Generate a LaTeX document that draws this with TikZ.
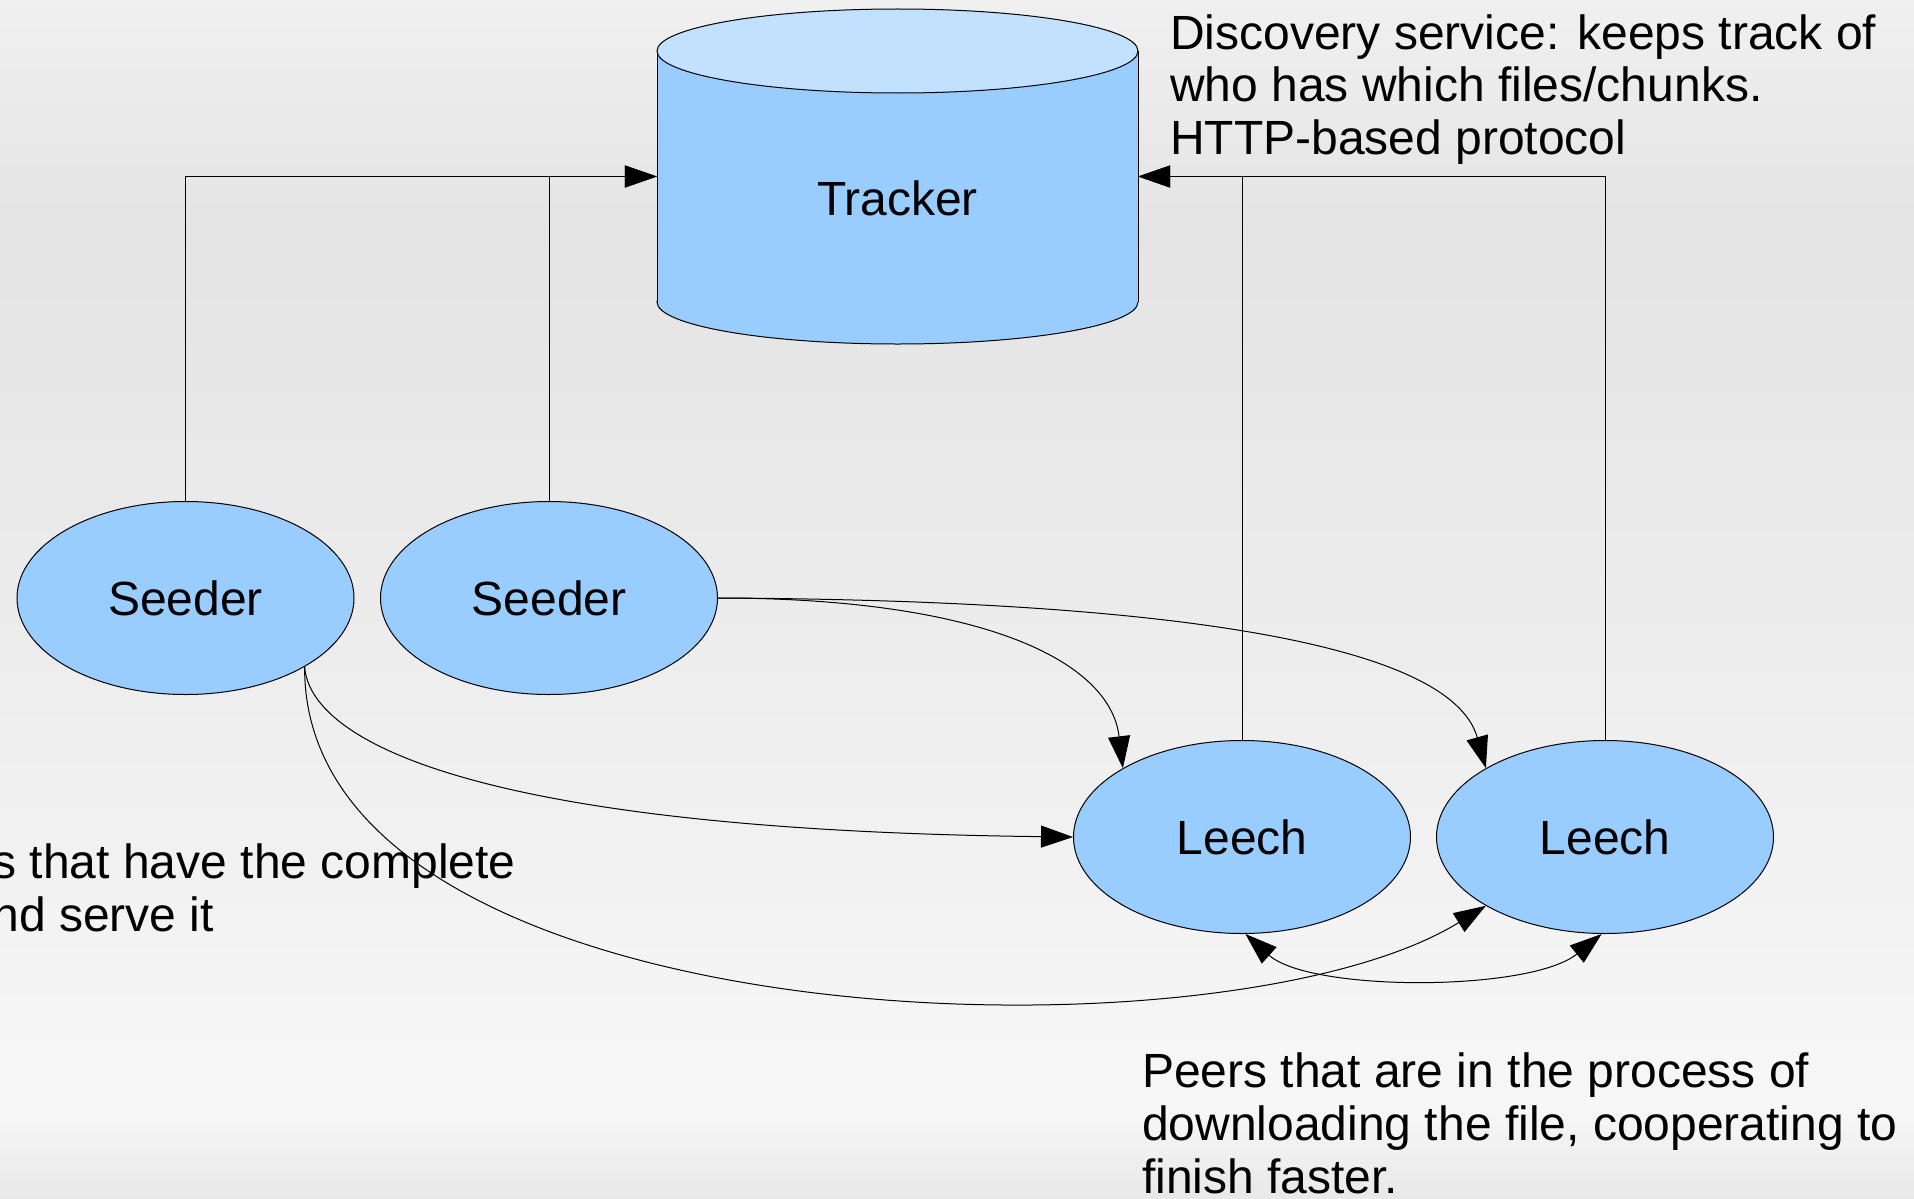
\documentclass[tikz,border=0pt]{standalone}
\usepackage{fontspec}
\setmainfont{Liberation Sans}
\usetikzlibrary{shapes.geometric,arrows.meta}

\definecolor{nodeblue}{HTML}{99CCFF}
\definecolor{capblue}{HTML}{C2E0FF}
\definecolor{bgtop}{HTML}{F0F0F0}
\definecolor{bgdark}{HTML}{E4E4E4}
\definecolor{bglight}{HTML}{F7F7F7}
\definecolor{bgbottom}{HTML}{E8E8E8}

\newcommand\bigtext{\fontsize{48}{53}\selectfont}

\tikzset{
  peer/.style={ellipse, draw=black, line width=1pt, fill=nodeblue,
    minimum width=337pt, minimum height=193pt, inner sep=0pt, font=\bigtext},
  conn/.style={line width=1pt, -{Triangle[length=32pt,width=22pt]}},
  biconn/.style={line width=1pt, {Triangle[length=32pt,width=22pt]}-{Triangle[length=32pt,width=22pt]}},
  note/.style={anchor=base west, inner sep=0pt, font=\bigtext},
}

\begin{document}
\begin{tikzpicture}[x=1pt,y=-1pt]
\useasboundingbox (0,0) rectangle (1914,1199);
\begin{scope}
\clip (0,0) rectangle (1914,1199);

% slide background
\shade[top color=bgtop, bottom color=bgdark] (0,0) rectangle (1914,231);
\shade[top color=bgdark, bottom color=bglight] (0,230) rectangle (1914,1111);
\shade[top color=bglight, bottom color=bgbottom] (0,1110) rectangle (1914,1199);

% tracker database (cylinder)
\node[minimum width=481pt, minimum height=335pt, inner sep=0pt] (tracker) at (897.5,176.5) {};
\filldraw[fill=nodeblue, line width=1pt] (897.5,302) ellipse [x radius=240.5, y radius=42];
\fill[nodeblue] (657,51) rectangle (1138,302);
\draw[line width=1pt] (657,51) -- (657,302) (1138,51) -- (1138,302);
\filldraw[fill=capblue, line width=1pt] (897.5,51) ellipse [x radius=240.5, y radius=42];
\node[font=\bigtext, anchor=base, inner sep=0pt] (trackerlabel) at (897.5,215) {Tracker};

% peers
\node[peer] (s1) at (185.5,598) {Seeder};
\node[peer] (s2) at (549,598) {Seeder};
\node[peer] (l1) at (1242,837) {Leech};
\node[peer] (l2) at (1605,837) {Leech};

% announce to the tracker
\draw[conn] (s1.north) |- (tracker.west);
\draw[conn] (s2.north) |- (tracker.west);
\draw[conn] (l1.north) |- (tracker.east);
\draw[conn] (l2.north) |- (tracker.east);

% data transfer
\draw[conn] (s2.east) .. controls (980,598) and (1110,660) .. (l1.150);
\draw[conn] (s2.east) .. controls (1150,600) and (1450,640) .. (l2.150);
\draw[conn] (s1.-30) .. controls (310,740) and (470,830) .. (l1.west);
\draw[conn] (s1.-30) .. controls (302,1040) and (1220,1070) .. (l2.210);
\draw[biconn] (l1.-88) .. controls (1310,992) and (1530,992) .. (l2.-92);

% notes
\node[note] (d1) at (1170,49) {Discovery service: keeps track of};
\node[note] (d2) at (1170,101.5) {who has which files/chunks.};
\node[note] (d3) at (1170,154) {HTTP-based protocol};

\node[note] (p1) at (-109,878) {Peers that have the complete};
\node[note] (p2) at (-109,931) {file and serve it};

\node[note] (q1) at (1142,1087) {Peers that are in the process of};
\node[note] (q2) at (1142,1140) {downloading the file, cooperating to};
\node[note] (q3) at (1142,1193) {finish faster.};
\end{scope}
\end{tikzpicture}
\end{document}
